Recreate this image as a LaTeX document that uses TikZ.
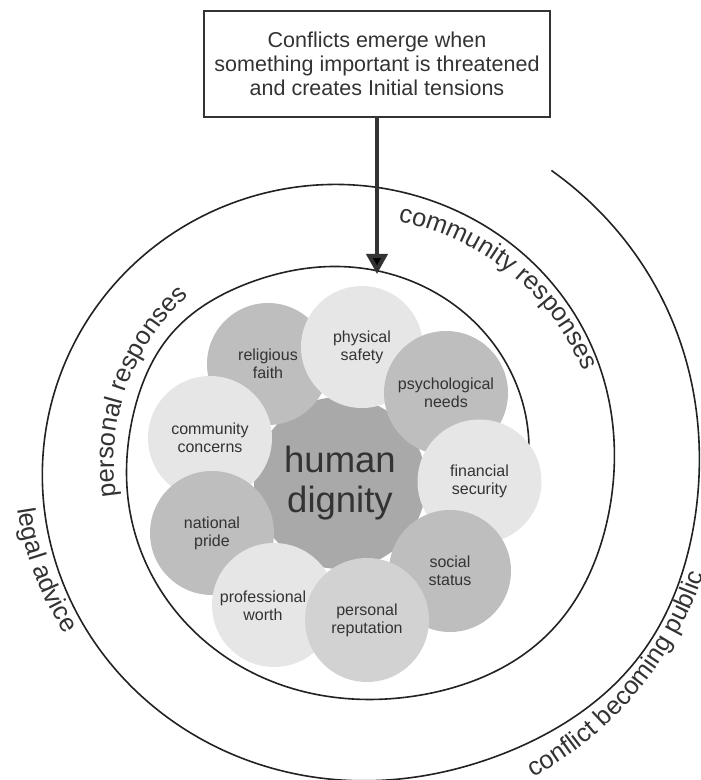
\documentclass[tikz,border=0pt]{standalone}
\usepackage{fontspec}
\setmainfont{Liberation Sans}
\usetikzlibrary{arrows.meta,decorations.text}
\definecolor{txt}{HTML}{333333}
\definecolor{ink}{HTML}{222222}
\definecolor{lightb}{HTML}{E6E6E6}
\definecolor{midb}{HTML}{BEBEBE}
\definecolor{persb}{HTML}{D2D2D2}
\definecolor{coreb}{HTML}{A9A9A9}
\newcommand\bandfont{\fontsize{25.5}{28}\selectfont}
\begin{document}
\begin{tikzpicture}[x=1pt,y=1pt,
  declare function={
    bmp(\t,\c,\w,\a)=\a*exp(-min(((\t-\c)/\w)*((\t-\c)/\w),9));
    rr(\t)=179.5+0.235*\t+bmp(\t,143,22,8)+bmp(\t,318,28,12)+bmp(\t,685,25,12);},
  ring/.style={draw=ink, line width=1.6pt},
  bubble/.style={circle, inner sep=0pt, align=center, text=txt, font=\fontsize{16}{18}\selectfont},
  bubbletext/.style={inner sep=0pt, align=center, text=txt, font=\fontsize{16}{18}\selectfont},
  frame/.style={draw=txt, line width=2pt, fill=white, minimum width=346pt, minimum height=106pt, align=center, text=txt, font=\fontsize{21.5}{24}\selectfont, inner sep=0pt},
  arr/.style={draw=txt, line width=4pt, -{Triangle[width=21pt,length=20pt]}},
  bandlabel/.style={decorate, decoration={text along path, text align=center, text color=txt}}]
\useasboundingbox (0,0) rectangle (701,780);
\coordinate (C) at (349,318);
% spiral
\draw[ring] plot[smooth, domain=-10:776, samples=400, variable=\t]
  ({349+rr(\t)*cos(\t)}, {318+0.972*rr(\t)*sin(\t)});
% core and bubbles
\node[bubble, fill=coreb, minimum size=172pt, font=\fontsize{36.5}{40}\selectfont] (core) at (340,297) {human\\dignity};
\node[bubble, fill=midb, minimum size=122pt] (faith) at (268,416) {religious\\faith};
\node[bubble, fill=lightb, minimum size=122pt] (safety) at (362,433) {physical\\safety};
\node[bubble, fill=midb, minimum size=124pt] (psych) at (446,387) {psychological\\needs};
\node[bubble, fill=lightb, minimum size=124pt] (fin) at (479.5,298.5) {financial\\security};
\node[bubble, fill=midb, minimum size=122pt] (social) at (450,209) {social\\status};
\node[bubble, fill=lightb, minimum size=124pt] (commc) at (210,342) {community\\concerns};
\node[bubble, fill=midb, minimum size=124pt] (pride) at (212,247) {national\\pride};
\node[bubble, fill=lightb, minimum size=124pt] (prof) at (274,175) {};
\node[bubble, fill=persb, minimum size=124pt] (rep) at (367,160) {personal\\reputation};
\node[bubbletext] (profT) at (263,174) {professional\\worth};
% band labels
\path (C) ++(200:235pt and 228.4pt) coordinate (pr0);
\path[bandlabel, decoration={text={|\bandfont|personal responses}}]
  (pr0) arc[start angle=200, end angle=122, x radius=235pt, y radius=228.4pt];
\path (C) ++(95:252pt and 245pt) coordinate (cr0);
\path[bandlabel, decoration={text={|\bandfont|community responses}}]
  (cr0) arc[start angle=95, end angle=5, x radius=252pt, y radius=245pt];
\path (C) ++(170:335pt and 325.6pt) coordinate (la0);
\path[bandlabel, decoration={text={|\bandfont|legal advice}}]
  (la0) arc[start angle=170, end angle=230, x radius=335pt, y radius=325.6pt];
\path (C) ++(-79:373pt and 363pt) coordinate (cb0);
\path[bandlabel, decoration={text={|\bandfont|conflict becoming public}}]
  (cb0) arc[start angle=-79, end angle=1, x radius=373pt, y radius=363pt];
% box and arrow
\node[frame] (box) at (377,716) {Conflicts emerge when\\something important is threatened\\and creates Initial tensions};
\coordinate (tip) at (377,506);
\draw[arr] (box.south) -- (tip);
\end{tikzpicture}
\end{document}
